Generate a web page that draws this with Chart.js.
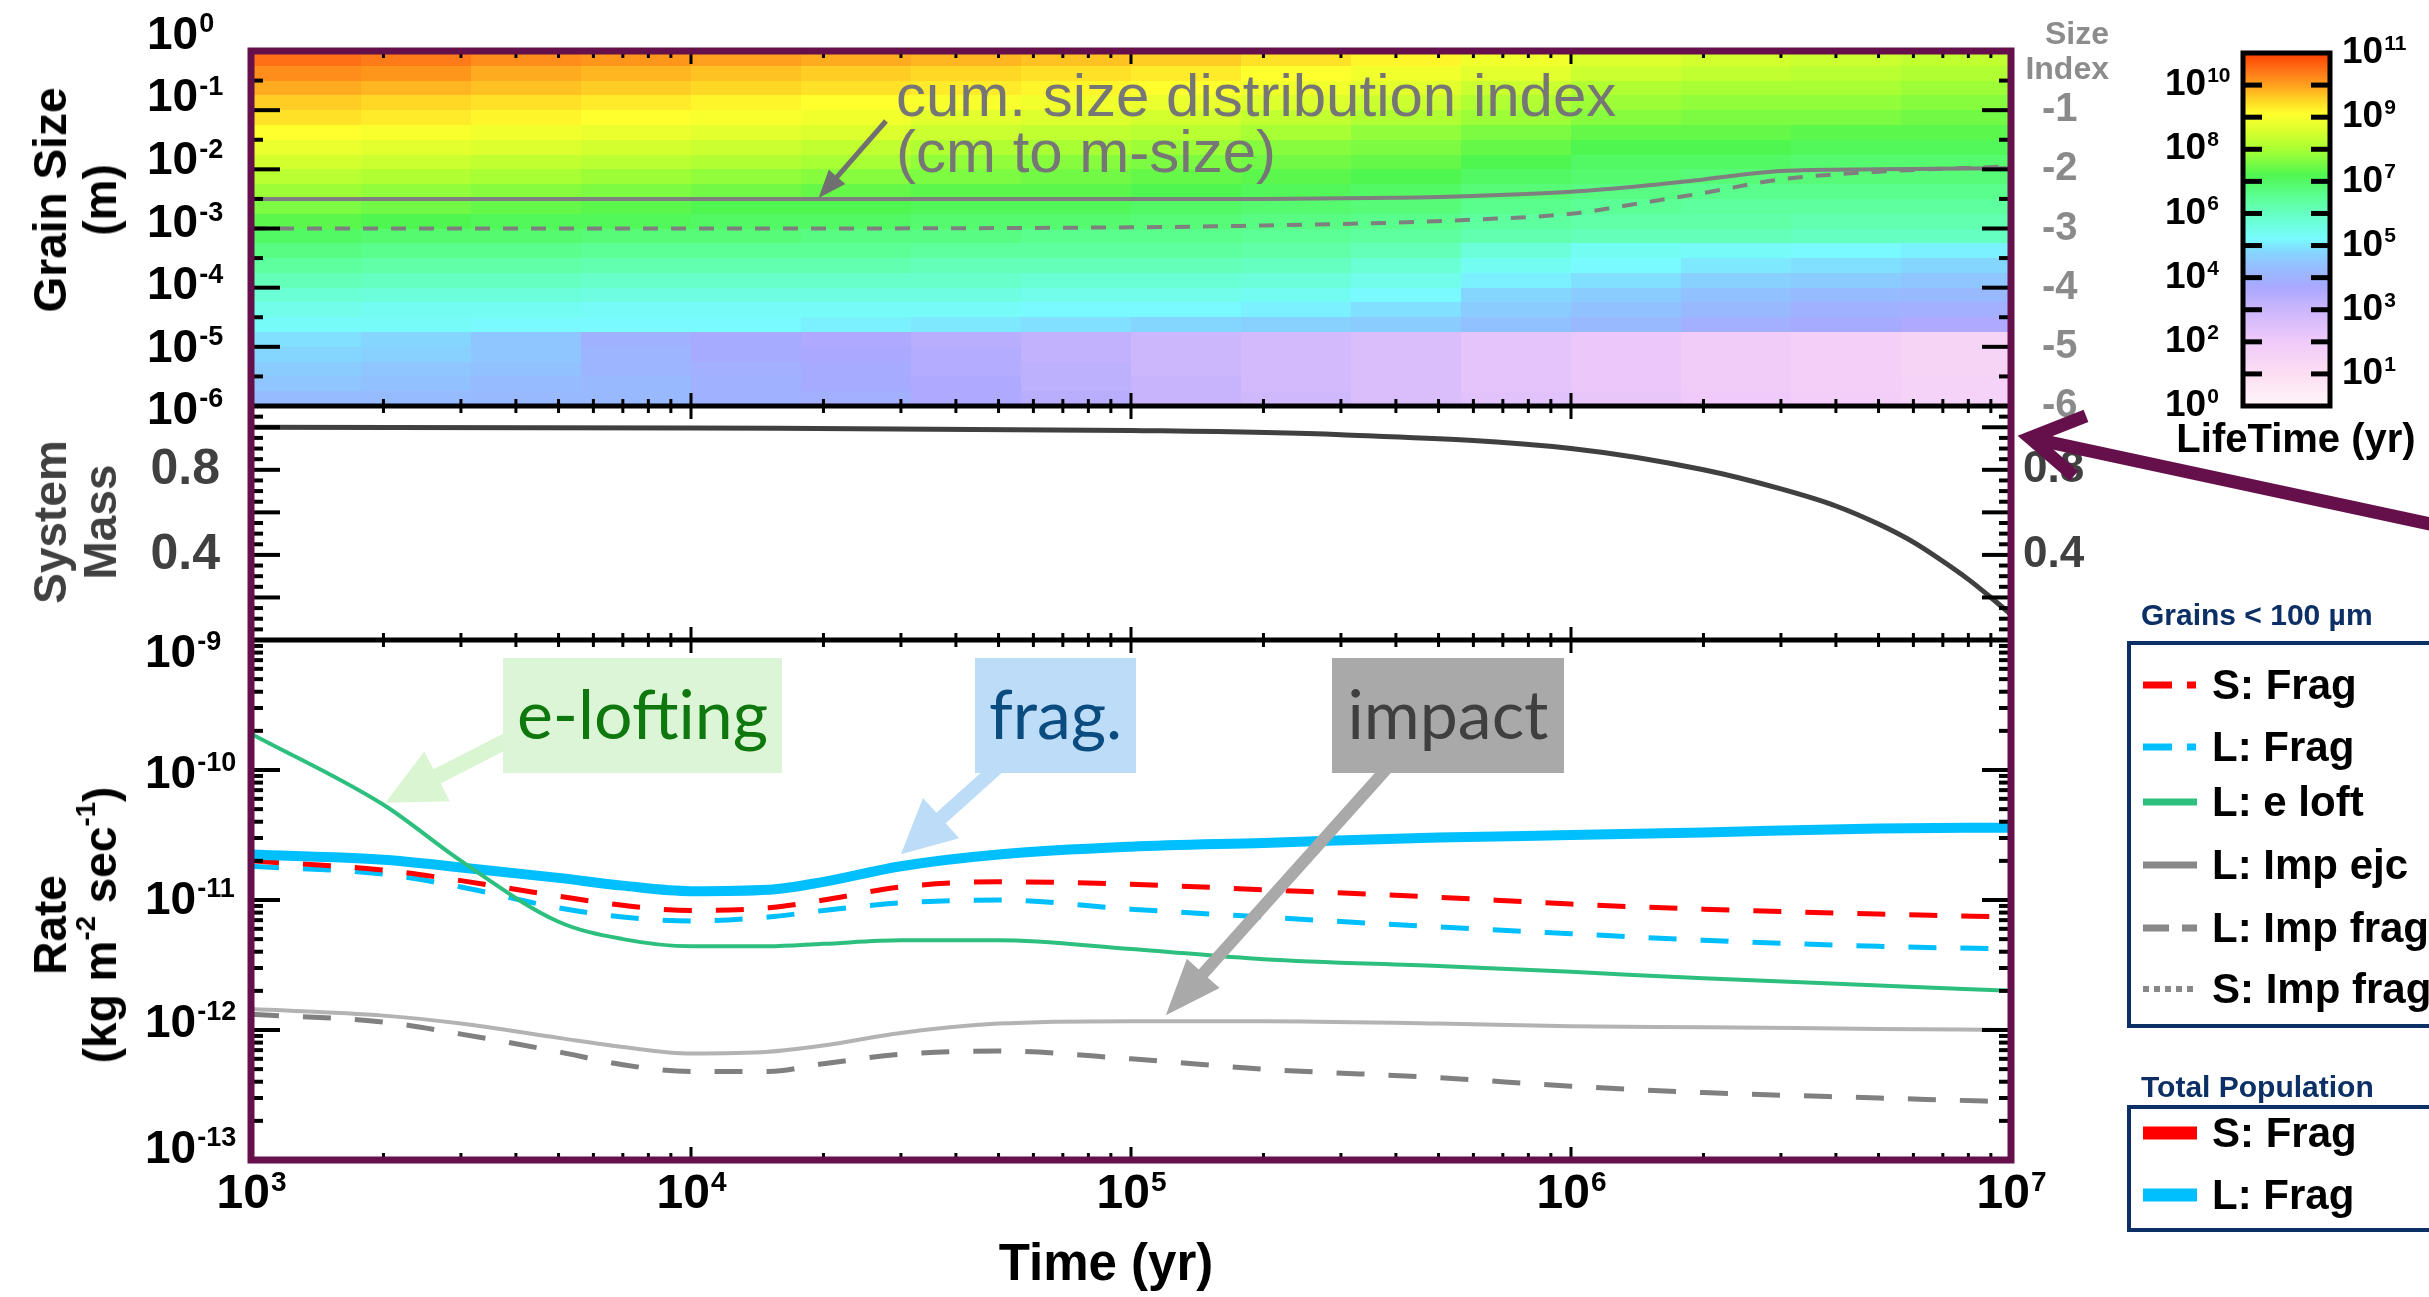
<!DOCTYPE html>
<html>
<head>
<meta charset="utf-8">
<title>Grain lifetime, system mass and rates</title>
<script src="https://cdn.jsdelivr.net/npm/chart.js@4.4.1/dist/chart.umd.min.js"></script>
<style>
  html, body { margin: 0; padding: 0; background: #fff; }
  body { width: 2429px; height: 1297px; position: relative; overflow: hidden;
         font-family: 'Liberation Sans', Arial, sans-serif; }
  canvas { position: absolute; left: 0; top: 0; }
  .abs { position: absolute; white-space: nowrap; }
  .ytitle { position: absolute; transform: translate(-50%, -50%) rotate(-90deg); text-align: center;
            font-weight: bold; font-size: 46px; line-height: 50px; white-space: nowrap; }
  sup { font-size: 60%; line-height: 0; vertical-align: 0.75em; }
  .note { position: absolute; display: flex; align-items: center; justify-content: center;
          font-family: Lato, 'Open Sans', sans-serif; font-size: 68px; box-sizing: border-box; padding-bottom: 6px; }
  .lgtitle { position: absolute; font-weight: bold; font-size: 30px; line-height: 30px; color: #0c2f66; white-space: nowrap; }
  .lgbox { position: absolute; border: 4px solid #0c2f66; box-sizing: border-box; }
  .lgitem { position: absolute; font-weight: bold; font-size: 42px; line-height: 50px; white-space: nowrap; }
  .lgitem svg { position: absolute; left: -69px; top: 18px; }
</style>
</head>
<body>
<canvas id="cTop" width="2429" height="1297"></canvas>
<canvas id="cMid" width="2429" height="1297"></canvas>
<canvas id="cBot" width="2429" height="1297"></canvas>
<canvas id="cBar" width="2429" height="1297"></canvas>

<div class="ytitle" style="left:75px;top:200px;color:#000">Grain Size<br>(m)</div>
<div class="ytitle" style="left:75px;top:522px;color:#404040">System<br>Mass</div>
<div class="ytitle" style="left:75px;top:925px;color:#000">Rate<br>(kg m<sup>-2</sup> sec<sup>-1</sup>)</div>
<div class="abs" style="left:1106px;top:1237px;transform:translateX(-50%);font-weight:bold;font-size:51px;line-height:51px">Time (yr)</div>

<div class="abs" style="right:320px;top:16px;text-align:right;font-weight:bold;font-size:32px;line-height:35px;color:#8c8c8c">Size<br>Index</div>
<div class="abs" style="left:2296px;top:418px;transform:translateX(-50%);font-weight:bold;font-size:40px;line-height:40px">LifeTime (yr)</div>

<div class="abs" style="left:896px;top:68px;font-size:60px;line-height:56px;color:#767676">cum. size distribution index<br>(cm to m-size)</div>

<div class="note" style="left:503px;top:658px;width:279px;height:115px;background:#dbf5d6;color:#0e780e">e-lofting</div>
<div class="note" style="left:975px;top:658px;width:161px;height:115px;background:#bcdcf7;color:#0b4c80">frag.</div>
<div class="note" style="left:1332px;top:658px;width:232px;height:115px;background:#a9a9a9;color:#3f3f3f">impact</div>

<div class="lgtitle" style="left:2141px;top:600px">Grains &lt; 100 µm</div>
<div class="lgbox" style="left:2127px;top:641px;width:330px;height:387px"></div>
<div class="lgitem" style="left:2212px;top:660px"><svg width="56" height="14"><line x1="0" y1="7" x2="54" y2="7" stroke="#ff0000" stroke-width="7" stroke-dasharray="29 15 9 100"/></svg>S: Frag</div>
<div class="lgitem" style="left:2212px;top:722px"><svg width="56" height="14"><line x1="0" y1="7" x2="54" y2="7" stroke="#00bfff" stroke-width="7" stroke-dasharray="29 15 9 100"/></svg>L: Frag</div>
<div class="lgitem" style="left:2212px;top:777px"><svg width="56" height="14"><line x1="0" y1="7" x2="54" y2="7" stroke="#2dbf7e" stroke-width="7"/></svg>L: e loft</div>
<div class="lgitem" style="left:2212px;top:840px"><svg width="56" height="14"><line x1="0" y1="7" x2="54" y2="7" stroke="#888888" stroke-width="7"/></svg>L: Imp ejc</div>
<div class="lgitem" style="left:2212px;top:903px"><svg width="56" height="14"><line x1="0" y1="7" x2="54" y2="7" stroke="#888888" stroke-width="7" stroke-dasharray="26 13 15 100"/></svg>L: Imp frag</div>
<div class="lgitem" style="left:2212px;top:964px"><svg width="56" height="14"><line x1="0" y1="7" x2="54" y2="7" stroke="#888888" stroke-width="6" stroke-dasharray="6 5"/></svg>S: Imp frag</div>

<div class="lgtitle" style="left:2141px;top:1072px">Total Population</div>
<div class="lgbox" style="left:2127px;top:1105px;width:330px;height:127px"></div>
<div class="lgitem" style="left:2212px;top:1108px"><svg width="56" height="14"><line x1="0" y1="7" x2="54" y2="7" stroke="#ff0000" stroke-width="13"/></svg>S: Frag</div>
<div class="lgitem" style="left:2212px;top:1170px"><svg width="56" height="14"><line x1="0" y1="7" x2="54" y2="7" stroke="#00bfff" stroke-width="13"/></svg>L: Frag</div>

<script>
// ---- axis ticks / labels ----
const timeLabelExp = [3, 4, 5, 6, 7];
const sizeLabelExp = [0, -1, -2, -3, -4, -5, -6];
const indexLabels = [-1, -2, -3, -4, -5, -6];
const massLabels = [0.8, 0.4];
const rateLabelExp = [-9, -10, -11, -12, -13];
const lifeLabelExp = [0, 1, 2, 3, 4, 5, 6, 7, 8, 9, 10, 11];

// ---- top panel: lifetime map (log10 yr), one array per time bin, rows from 1 m down to 1 um ----
const timeBinExp = [3, 3.25, 3.5, 3.75, 4, 4.25, 4.5, 4.75, 5, 5.25, 5.5, 5.75, 6, 6.25, 6.5, 6.75, 7];
const sizeBinExp = [0, -0.25, -0.5, -0.75, -1, -1.25, -1.5, -1.75, -2, -2.25, -2.5, -2.75, -3,
                    -3.25, -3.5, -3.75, -4, -4.25, -4.5, -4.75, -5, -5.25, -5.5, -5.75, -6];
const lifetimeLog = [
  [10.5,10.2,9.9,9.6,9.4,9.1,8.8,8.5,8.2,7.9,7.6,7.3,7.0,6.7,6.4,6.1,5.8,5.5,5.3, 4.9,4.8,4.6,4.5,4.3],
  [10.4,10.1,9.8,9.5,9.3,9.0,8.7,8.4,8.1,7.8,7.5,7.2,6.9,6.6,6.3,6.0,5.7,5.4,5.3, 4.8,4.7,4.5,4.4,4.3],
  [10.2,9.9,9.7,9.4,9.2,8.9,8.6,8.3,8.0,7.7,7.4,7.1,6.9,6.6,6.3,6.0,5.7,5.4,5.2, 4.5,4.5,4.4,4.3,4.2],
  [10.1,9.8,9.6,9.3,9.1,8.8,8.5,8.2,7.9,7.6,7.3,7.1,6.8,6.5,6.2,5.9,5.6,5.3,5.2, 4.0,4.1,4.1,4.2,4.2],
  [10.0,9.7,9.5,9.2,9.0,8.7,8.4,8.1,7.8,7.5,7.2,7.0,6.8,6.5,6.2,5.9,5.6,5.3,5.2, 3.8,3.8,3.9,4.0,4.0],
  [9.9,9.6,9.4,9.1,8.9,8.6,8.3,8.0,7.7,7.4,7.2,7.0,6.7,6.5,6.2,5.9,5.6,5.3,5.1, 3.6,3.7,3.8,3.8,3.9],
  [9.8,9.5,9.3,9.0,8.7,8.4,8.1,7.8,7.6,7.3,7.1,6.9,6.7,6.4,6.1,5.9,5.6,5.3,5.0, 3.4,3.5,3.5,3.6,3.6],
  [9.7,9.4,9.2,8.9,8.6,8.3,8.0,7.7,7.5,7.3,7.1,6.9,6.6,6.4,6.1,5.8,5.5,5.2,4.9, 3.2,3.2,3.3,3.3,3.4],
  [9.6,9.3,9.1,8.8,8.5,8.2,7.9,7.6,7.4,7.2,7.0,6.8,6.6,6.4,6.1,5.8,5.5,5.2,4.8, 3.0,3.0,3.0,3.1,3.1],
  [9.4,9.1,8.9,8.6,8.3,8.0,7.7,7.5,7.3,7.1,6.9,6.7,6.5,6.3,6.0,5.7,5.4,5.1,4.7, 2.8,2.8,2.8,2.8,2.9],
  [9.2,8.9,8.7,8.4,8.1,7.8,7.6,7.4,7.2,7.0,6.8,6.6,6.4,6.1,5.8,5.5,5.2,4.9,4.6, 2.6,2.6,2.6,2.6,2.6],
  [8.9,8.7,8.4,8.1,7.9,7.6,7.4,7.2,7.0,6.8,6.6,6.4,6.2,5.7,5.4,5.1,4.8,4.6,4.4, 2.3,2.3,2.3,2.3,2.4],
  [8.6,8.4,8.1,7.9,7.7,7.4,7.2,7.0,6.9,6.7,6.5,6.3,6.1,5.4,5.2,4.9,4.6,4.4,4.2, 2.1,2.1,2.1,2.1,2.2],
  [8.5,8.3,8.0,7.8,7.6,7.4,7.2,7.0,6.8,6.6,6.4,6.3,6.1,5.3,5.0,4.7,4.4,4.2,3.9, 1.9,1.9,1.9,1.9,2.0],
  [8.4,8.2,8.0,7.8,7.6,7.3,7.1,6.9,6.8,6.6,6.4,6.2,6.0,5.2,4.9,4.6,4.3,4.0,3.8, 1.7,1.7,1.7,1.7,1.8],
  [8.3,8.1,7.9,7.7,7.5,7.3,7.1,6.9,6.8,6.6,6.4,6.2,6.0,5.1,4.8,4.5,4.2,3.9,3.6, 1.5,1.5,1.5,1.6,1.6]
];

// cumulative size distribution index (right axis)
const idxTime   = [1e3, 1e4, 1e5, 2e5, 4e5, 6e5, 1e6, 1.5e6, 2e6, 3e6, 5e6, 1e7];
const idxSolid  = [-2.5, -2.5, -2.5, -2.5, -2.48, -2.45, -2.38, -2.27, -2.17, -2.03, -2.0, -1.98];
const idxDashed = [-3.0, -3.0, -2.98, -2.95, -2.9, -2.85, -2.75, -2.55, -2.4, -2.17, -2.04, -1.95];

// ---- middle panel ----
const massTime   = [1e3, 1e4, 1e5, 3e5, 1e6, 2e6, 3e6, 4e6, 5e6, 6e6, 7e6, 8e6, 9e6, 1e7];
const massValues = [1.0, 0.997, 0.985, 0.965, 0.9, 0.8, 0.71, 0.63, 0.545, 0.46, 0.37, 0.285, 0.2, 0.12];

// ---- bottom panel (kg m^-2 s^-1) ----
const rateTime   = [1e3, 2e3, 3e3, 5e3, 7e3, 1e4, 1.5e4, 2e4, 3e4, 5e4, 1e5, 2e5, 5e5, 1e6, 2e6, 5e6, 1e7];
const totalLFrag = [2.24e-11, 2.04e-11, 1.78e-11, 1.48e-11, 1.29e-11, 1.17e-11, 1.2e-11, 1.38e-11, 1.82e-11, 2.24e-11, 2.57e-11, 2.75e-11, 3.02e-11, 3.16e-11, 3.31e-11, 3.55e-11, 3.6e-11];
const smallSFrag = [2.0e-11, 1.7e-11, 1.41e-11, 1.07e-11, 9.1e-12, 8.3e-12, 8.7e-12, 1.0e-11, 1.26e-11, 1.38e-11, 1.32e-11, 1.2e-11, 1.05e-11, 9.3e-12, 8.5e-12, 7.8e-12, 7.4e-12];
const smallLFrag = [1.82e-11, 1.58e-11, 1.26e-11, 8.7e-12, 7.4e-12, 6.9e-12, 7.4e-12, 8.3e-12, 9.5e-12, 1.0e-11, 8.5e-12, 7.4e-12, 6.2e-12, 5.5e-12, 4.9e-12, 4.4e-12, 4.2e-12];
const eLoft      = [1.9e-10, 5.4e-11, 2.0e-11, 6.8e-12, 5.0e-12, 4.4e-12, 4.4e-12, 4.6e-12, 4.9e-12, 4.9e-12, 4.2e-12, 3.5e-12, 3.1e-12, 2.8e-12, 2.5e-12, 2.2e-12, 2.0e-12];
const impEjc     = [1.45e-12, 1.29e-12, 1.12e-12, 8.7e-13, 7.4e-13, 6.6e-13, 6.8e-13, 7.6e-13, 9.5e-13, 1.12e-12, 1.17e-12, 1.17e-12, 1.12e-12, 1.07e-12, 1.05e-12, 1.02e-12, 1.0e-12];
const impFrag    = [1.32e-12, 1.15e-12, 9.3e-13, 6.8e-13, 5.4e-13, 4.8e-13, 4.8e-13, 5.5e-13, 6.5e-13, 6.9e-13, 6.0e-13, 5.0e-13, 4.3e-13, 3.7e-13, 3.3e-13, 3.0e-13, 2.8e-13];

// ---- layout / style ----
const PAGE_W = 2429, PAGE_H = 1297;
const AREA = { left: 251, right: 2011, top: 51, split1: 406, split2: 640, bottom: 1160 };
const BAR = { left: 2243, right: 2330, top: 53, bottom: 406 };
const FONT = "'Liberation Sans', Arial, sans-serif";
const PURPLE = '#65104a';
const sizeLabelShift = [-15, -12, -8, -4, -1, 2, 5];
const rateLabelShift = [14, 5, 1, -6, -10];

const cmapStops = [
  [0, [255,246,250]], [1, [252,222,242]], [2, [240,202,250]], [3, [204,182,252]],
  [3.7, [170,168,255]], [4.3, [150,188,255]], [4.8, [132,214,255]], [5.2, [120,250,255]],
  [5.8, [106,255,212]], [6.5, [92,255,150]], [7.2, [80,246,80]], [8.0, [168,255,52]],
  [8.6, [220,255,45]], [9.1, [255,255,45]], [9.6, [255,205,35]], [10.0, [255,160,30]],
  [10.5, [255,112,22]], [11, [255,64,0]]
];

function lifeColor(v) {
  const s = cmapStops;
  if (v <= s[0][0]) return 'rgb(' + s[0][1].join(',') + ')';
  for (let i = 1; i < s.length; i++) {
    if (v <= s[i][0]) {
      const f = (v - s[i - 1][0]) / (s[i][0] - s[i - 1][0]);
      const a = s[i - 1][1], b = s[i][1];
      return 'rgb(' + a.map((c, k) => Math.round(c + (b[k] - c) * f)).join(',') + ')';
    }
  }
  return 'rgb(' + s[s.length - 1][1].join(',') + ')';
}

function pts(xs, ys) { return xs.map((x, i) => ({ x: x, y: ys[i] })); }

function pad(l, r, t, b) { return { left: l, right: PAGE_W - r, top: t, bottom: PAGE_H - b }; }

function common(padding) {
  return {
    responsive: false, animation: false, devicePixelRatio: 1, events: [],
    layout: { padding: padding },
    plugins: { legend: { display: false }, tooltip: { enabled: false } },
    elements: { point: { radius: 0 }, line: { cubicInterpolationMode: 'monotone', fill: false } }
  };
}

function tick(ctx, x0, y0, x1, y1, w) {
  ctx.lineWidth = w;
  ctx.beginPath(); ctx.moveTo(x0, y0); ctx.lineTo(x1, y1); ctx.stroke();
}

function powLabel(ctx, x, y, base, sup, size, align, color) {
  const bf = 'bold ' + size + 'px ' + FONT, sf = 'bold ' + Math.round(size * 0.58) + 'px ' + FONT;
  ctx.font = bf; const wb = ctx.measureText(base).width;
  ctx.font = sf; const ws = sup ? ctx.measureText(sup).width : 0;
  let x0 = x;
  if (align === 'center') x0 = x - (wb + ws) / 2;
  else if (align === 'right') x0 = x - wb - ws;
  ctx.fillStyle = color; ctx.textAlign = 'left'; ctx.textBaseline = 'middle';
  ctx.font = bf; ctx.fillText(base, x0, y);
  if (sup) { ctx.font = sf; ctx.fillText(sup, x0 + wb + 1, y - size * 0.24); }
}

function plainLabel(ctx, x, y, text, size, align, color) {
  ctx.font = 'bold ' + size + 'px ' + FONT;
  ctx.fillStyle = color; ctx.textAlign = align; ctx.textBaseline = 'middle';
  ctx.fillText(text, x, y);
}

function timeTicks(chart) {
  const ctx = chart.ctx, a = chart.chartArea, xs = chart.scales.x;
  ctx.strokeStyle = '#000';
  for (let e = timeLabelExp[0]; e < timeLabelExp[timeLabelExp.length - 1]; e++) {
    for (let m = 1; m < 10; m++) {
      const px = xs.getPixelForValue(m * Math.pow(10, e));
      const len = m === 1 ? 13 : 7;
      tick(ctx, px, a.top, px, a.top + len, 3);
      tick(ctx, px, a.bottom, px, a.bottom - len, 3);
    }
  }
}

function sideTicks(chart, scale, list) {
  const ctx = chart.ctx, a = chart.chartArea;
  ctx.strokeStyle = '#000';
  list.forEach(t => {
    const py = scale.getPixelForValue(t.v);
    const len = t.major ? 29 : 12;
    tick(ctx, a.left, py, a.left + len, py, 4);
    tick(ctx, a.right, py, a.right - len, py, 4);
  });
}

function blockArrow(ctx, x0, y0, x1, y1, shaft, headW, headL, color) {
  const dx = x1 - x0, dy = y1 - y0, L = Math.hypot(dx, dy);
  const ux = dx / L, uy = dy / L, nx = -uy, ny = ux;
  const bx = x1 - ux * headL, by = y1 - uy * headL;
  ctx.fillStyle = color;
  ctx.beginPath();
  ctx.moveTo(x0 + nx * shaft / 2, y0 + ny * shaft / 2);
  ctx.lineTo(bx + nx * shaft / 2, by + ny * shaft / 2);
  ctx.lineTo(bx + nx * headW / 2, by + ny * headW / 2);
  ctx.lineTo(x1, y1);
  ctx.lineTo(bx - nx * headW / 2, by - ny * headW / 2);
  ctx.lineTo(bx - nx * shaft / 2, by - ny * shaft / 2);
  ctx.lineTo(x0 - nx * shaft / 2, y0 - ny * shaft / 2);
  ctx.closePath(); ctx.fill();
}

// ---- top chart ----
const heatmapPlugin = {
  id: 'heatmap',
  beforeDatasetsDraw(chart) {
    const ctx = chart.ctx, xs = chart.scales.x, ys = chart.scales.y;
    ctx.save();
    lifetimeLog.forEach((col, i) => {
      const x0 = Math.round(xs.getPixelForValue(Math.pow(10, timeBinExp[i])));
      const x1 = Math.round(xs.getPixelForValue(Math.pow(10, timeBinExp[i + 1])));
      col.forEach((v, j) => {
        const y0 = Math.round(ys.getPixelForValue(Math.pow(10, sizeBinExp[j])));
        const y1 = Math.round(ys.getPixelForValue(Math.pow(10, sizeBinExp[j + 1])));
        ctx.fillStyle = lifeColor(v);
        ctx.fillRect(x0, y0, x1 - x0 + 1, y1 - y0 + 1);
      });
    });
    ctx.restore();
  }
};

const topAxes = {
  id: 'topAxes',
  afterDatasetsDraw(chart) {
    const ctx = chart.ctx, ys = chart.scales.y, yi = chart.scales.yIdx;
    ctx.save();
    const list = [];
    sizeLabelExp.forEach(e => {
      list.push({ v: Math.pow(10, e), major: true });
      if (e > sizeLabelExp[sizeLabelExp.length - 1]) list.push({ v: Math.pow(10, e - 0.5), major: false });
    });
    sideTicks(chart, ys, list);
    timeTicks(chart);
    sizeLabelExp.forEach((e, i) => powLabel(ctx, 147, ys.getPixelForValue(Math.pow(10, e)) + sizeLabelShift[i], '10', String(e), 46, 'left', '#000'));
    indexLabels.forEach(v => plainLabel(ctx, 2042, yi.getPixelForValue(v), String(v), 40, 'left', '#8a8a8a'));
    ctx.restore();
  }
};

const topChart = new Chart(document.getElementById('cTop'), {
  type: 'line',
  data: { datasets: [
    { label: 'cum. index (cm to m)', data: pts(idxTime, idxSolid), yAxisID: 'yIdx', borderColor: '#7f7f7f', borderWidth: 4 },
    { label: 'cum. index', data: pts(idxTime, idxDashed), yAxisID: 'yIdx', borderColor: '#7f7f7f', borderWidth: 4, borderDash: [15, 13] }
  ]},
  options: Object.assign(common(pad(AREA.left, AREA.right, AREA.top, AREA.split1)), {
    scales: {
      x: { type: 'logarithmic', min: 1e3, max: 1e7, display: false },
      y: { type: 'logarithmic', min: 1e-6, max: 1, display: false },
      yIdx: { type: 'linear', min: -6, max: 0, display: false }
    }
  }),
  plugins: [heatmapPlugin, topAxes]
});

// ---- middle chart ----
const midAxes = {
  id: 'midAxes',
  afterDatasetsDraw(chart) {
    const ctx = chart.ctx, ys = chart.scales.y;
    ctx.save();
    const list = [];
    for (let k = 1; k <= 21; k++) list.push({ v: k * 0.05, major: k % 4 === 0 });
    sideTicks(chart, ys, list);
    timeTicks(chart);
    massLabels.forEach(v => {
      plainLabel(ctx, 220, ys.getPixelForValue(v), v.toFixed(1), 50, 'right', '#404040');
      plainLabel(ctx, 2023, ys.getPixelForValue(v), v.toFixed(1), 44, 'left', '#404040');
    });
    ctx.restore();
  }
};

const midChart = new Chart(document.getElementById('cMid'), {
  type: 'line',
  data: { datasets: [
    { label: 'System Mass', data: pts(massTime, massValues), borderColor: '#404040', borderWidth: 5 }
  ]},
  options: Object.assign(common(pad(AREA.left, AREA.right, AREA.split1, AREA.split2)), {
    scales: {
      x: { type: 'logarithmic', min: 1e3, max: 1e7, display: false },
      y: { type: 'linear', min: 0, max: 1.1, display: false }
    }
  }),
  plugins: [midAxes]
});

// ---- bottom chart ----
const botAxes = {
  id: 'botAxes',
  afterDatasetsDraw(chart) {
    const ctx = chart.ctx, xs = chart.scales.x, ys = chart.scales.y;
    ctx.save();
    const list = [];
    rateLabelExp.forEach(e => {
      list.push({ v: Math.pow(10, e), major: true });
      if (e > rateLabelExp[rateLabelExp.length - 1]) {
        for (let m = 2; m < 10; m++) list.push({ v: m * Math.pow(10, e - 1), major: false });
      }
    });
    sideTicks(chart, ys, list);
    timeTicks(chart);
    rateLabelExp.forEach((e, i) => powLabel(ctx, 145, ys.getPixelForValue(Math.pow(10, e)) + rateLabelShift[i], '10', String(e), 46, 'left', '#000'));
    timeLabelExp.forEach(e => powLabel(ctx, xs.getPixelForValue(Math.pow(10, e)), 1195, '10', String(e), 48, 'center', '#000'));

    // annotation arrows
    const kink = { x: xs.getPixelForValue(rateTime[1]), y: ys.getPixelForValue(eLoft[1]) };
    blockArrow(ctx, 512, 738, kink.x + 2, kink.y - 2, 16, 56, 58, '#d9f5d2');
    blockArrow(ctx, 1000, 765, xs.getPixelForValue(rateTime[8]), ys.getPixelForValue(totalLFrag[8]) - 12, 14, 54, 54, '#bcdcf7');
    blockArrow(ctx, 1390, 765, xs.getPixelForValue(1.2e5), ys.getPixelForValue(impEjc[10]) - 6, 12, 44, 56, '#a9a9a9');

    const tc = topChart.chartArea, mc = midChart.chartArea, a = chart.chartArea;
    // cum. size index arrow
    blockArrow(ctx, 886, 121, topChart.scales.x.getPixelForValue(1.95e4), topChart.scales.yIdx.getPixelForValue(idxSolid[1]) - 1, 5, 22, 28, '#707070');

    // panel separators and outer frame
    ctx.strokeStyle = '#000';
    tick(ctx, tc.left, tc.bottom, tc.right, tc.bottom, 5);
    tick(ctx, mc.left, mc.bottom, mc.right, mc.bottom, 5);
    ctx.strokeStyle = PURPLE; ctx.lineWidth = 7;
    ctx.strokeRect(tc.left, tc.top, tc.right - tc.left, a.bottom - tc.top);

    // pointer to the system mass axis
    const tip = { x: a.right + 19, y: midChart.scales.y.getPixelForValue(0.95) };
    ctx.strokeStyle = PURPLE; ctx.lineWidth = 13; ctx.lineJoin = 'miter'; ctx.lineCap = 'butt';
    ctx.beginPath(); ctx.moveTo(PAGE_W + 10, tip.y + 88); ctx.lineTo(tip.x + 4, tip.y + 1); ctx.stroke();
    ctx.beginPath(); ctx.moveTo(tip.x + 56, tip.y - 22); ctx.lineTo(tip.x, tip.y); ctx.lineTo(tip.x + 44, tip.y + 38); ctx.stroke();
    ctx.restore();
  }
};

const botChart = new Chart(document.getElementById('cBot'), {
  type: 'line',
  data: { datasets: [
    { label: 'L: e loft', data: pts(rateTime, eLoft), borderColor: '#2dbf7e', borderWidth: 4 },
    { label: 'Total L: Frag', data: pts(rateTime, totalLFrag), borderColor: '#00bfff', borderWidth: 10 },
    { label: 'S: Frag', data: pts(rateTime, smallSFrag), borderColor: '#ff0000', borderWidth: 5, borderDash: [28, 24] },
    { label: 'L: Frag', data: pts(rateTime, smallLFrag), borderColor: '#00bfff', borderWidth: 5, borderDash: [28, 24] },
    { label: 'L: Imp ejc', data: pts(rateTime, impEjc), borderColor: '#b3b3b3', borderWidth: 4 },
    { label: 'L: Imp frag', data: pts(rateTime, impFrag), borderColor: '#808080', borderWidth: 5, borderDash: [28, 24] }
  ]},
  options: Object.assign(common(pad(AREA.left, AREA.right, AREA.split2, AREA.bottom)), {
    scales: {
      x: { type: 'logarithmic', min: 1e3, max: 1e7, display: false },
      y: { type: 'logarithmic', min: 1e-13, max: 1e-9, display: false }
    }
  }),
  plugins: [botAxes]
});

// ---- lifetime colour bar ----
const barPlugin = {
  id: 'lifeBar',
  beforeDatasetsDraw(chart) {
    const ctx = chart.ctx, a = chart.chartArea, ys = chart.scales.y;
    ctx.save();
    for (let py = Math.floor(a.top); py < a.bottom; py++) {
      ctx.fillStyle = lifeColor(Math.log10(ys.getValueForPixel(py + 0.5)));
      ctx.fillRect(a.left, py, a.right - a.left, 1);
    }
    ctx.restore();
  },
  afterDatasetsDraw(chart) {
    const ctx = chart.ctx, a = chart.chartArea, ys = chart.scales.y;
    ctx.save();
    ctx.strokeStyle = '#000';
    lifeLabelExp.forEach(e => {
      const py = ys.getPixelForValue(Math.pow(10, e));
      if (e > 0 && e < 11) {
        tick(ctx, a.left, py, a.left + 19, py, 5);
        tick(ctx, a.right, py, a.right - 19, py, 5);
      }
      if (e % 2 === 0) powLabel(ctx, 2165, py, '10', String(e), 37, 'left', '#000');
      else powLabel(ctx, 2342, py, '10', String(e), 37, 'left', '#000');
    });
    ctx.lineWidth = 5;
    ctx.strokeRect(a.left, a.top, a.right - a.left, a.bottom - a.top);
    ctx.restore();
  }
};

new Chart(document.getElementById('cBar'), {
  type: 'scatter',
  data: { datasets: [{ label: 'LifeTime', data: [] }] },
  options: Object.assign(common(pad(BAR.left, BAR.right, BAR.top, BAR.bottom)), {
    scales: {
      x: { type: 'linear', min: 0, max: 1, display: false },
      y: { type: 'logarithmic', min: 1, max: 1e11, display: false }
    }
  }),
  plugins: [barPlugin]
});
</script>
</body>
</html>
